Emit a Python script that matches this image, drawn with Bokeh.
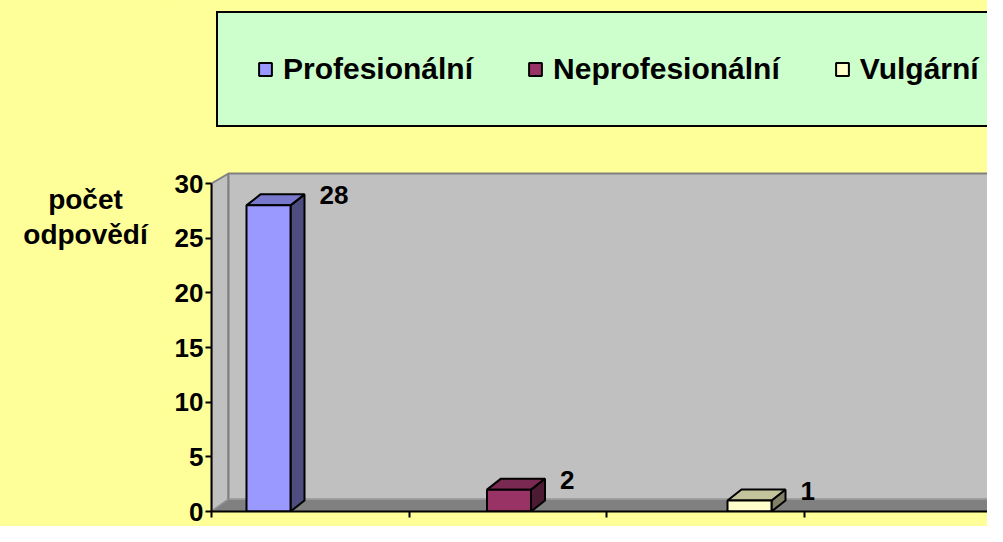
from bokeh.plotting import figure
from bokeh.layouts import row
from bokeh.models import (Range1d, FixedTicker, Legend, LegendItem, ColumnDataSource,
                          CustomJSTickFormatter)
from bokeh.core.properties import value
from bokeh.embed import file_html
from bokeh.resources import INLINE

# ---- data ----
series = ["Profesionální", "Neprofesionální", "Vulgární"]
counts = [28, 2, 1]
y_ticks = [0, 5, 10, 15, 20, 25, 30]
y_title = ["počet", "odpovědí"]
front_colors = ["#9999FF", "#993366", "#FFFFCC"]
top_colors = ["#7878CC", "#7A2952", "#C4C49C"]
side_colors = ["#4D4D80", "#4D1A33", "#808066"]

# ---- layout constants ----
FONT = "Liberation Sans"
BG = "#FFFF99"
W, H = 987, 526
LW = 160                 # width of the title strip on the left
AXIS_X = 211             # page x of the value axis
BOTTOM = 15
FRAME_H = H - BOTTOM
SLOT_PX = 240.5
Y30_PX = 183
ppu = (FRAME_H - Y30_PX) / 30.0
x_start = 1 - 57 / SLOT_PX
x_end = x_start + (W - AXIS_X) / SLOT_PX
y_end = FRAME_H / ppu

# ---- left strip with the axis title ----
t = figure(width=LW, height=H, x_range=Range1d(0, LW), y_range=Range1d(H, 0),
           output_backend="svg", toolbar_location=None, x_axis_type=None, y_axis_type=None,
           min_border=0, background_fill_color=BG, border_fill_color=BG, outline_line_color=None)
t.grid.visible = False
tsrc = ColumnDataSource(dict(x=[85, 85], y=[205, 241], t=y_title))
t.text(x="x", y="y", text="t", source=tsrc, text_font=value(FONT), text_font_style="bold",
       text_font_size="28px", text_align="center", text_baseline="middle", text_color="black")

# ---- main chart ----
p = figure(width=W - LW, height=H, x_range=Range1d(x_start, x_end), y_range=Range1d(0, y_end),
           output_backend="svg", toolbar_location=None,
           min_border_left=AXIS_X - LW, min_border_right=0, min_border_top=0, min_border_bottom=BOTTOM,
           background_fill_color=BG, border_fill_color=BG, outline_line_color=None)
p.grid.visible = False

# 3D walls
wdx = 17 / SLOT_PX
wtop = 30 + 10 / ppu
wfloor = 12 / ppu
p.patch([x_start, x_start, x_start + wdx, x_start + wdx], [0, 30, wtop, wfloor],
        fill_color="#C0C0C0", line_color="#808080", line_width=2)
p.patch([x_start + wdx, x_end + 1, x_end + 1, x_start + wdx], [wtop, wtop, wfloor, wfloor],
        fill_color="#C0C0C0", line_color="#808080", line_width=2)
p.patch([x_start, x_start + wdx, x_end + 1, x_end + 1], [0, wfloor, wfloor, 0],
        fill_color="#808080", line_color="#999999", line_width=1)

# 3D bars
cats = [i + 1 for i in range(len(series))]
hw = 22 / SLOT_PX
bdx = 14 / SLOT_PX
bdy = 11 / ppu
items = []
for i, name in enumerate(series):
    x = cats[i]
    v = counts[i]
    p.patch([x + hw, x + hw + bdx, x + hw + bdx, x + hw], [0, bdy, v + bdy, v],
            fill_color=side_colors[i], line_color="black", line_width=2)
    p.patch([x - hw, x + hw, x + hw + bdx, x - hw + bdx], [v, v, v + bdy, v + bdy],
            fill_color=top_colors[i], line_color="black", line_width=2)
    src = ColumnDataSource(dict(left=[x - hw], right=[x + hw], bottom=[0], top=[v]))
    r = p.quad(left="left", right="right", bottom="bottom", top="top", source=src,
               fill_color=front_colors[i], line_color="black", line_width=2)
    items.append(LegendItem(label=name, renderers=[r]))

# value labels
lab_src = ColumnDataSource(dict(x=[c + hw + bdx for c in cats], y=counts, t=[str(c) for c in counts]))
p.text(x="x", y="y", text="t", source=lab_src, x_offset=15, y_offset=-10,
       text_font=value(FONT), text_font_style="bold", text_font_size="26px",
       text_align="left", text_baseline="middle", text_color="black")

# axes
xa = p.xaxis[0]
xa.ticker = FixedTicker(ticks=[x_start + k * 197.5 / SLOT_PX for k in range(5)])
xa.formatter = CustomJSTickFormatter(code="return ''")
xa.major_label_text_font_size = "2px"
xa.major_label_standoff = 0
xa.major_tick_out = 6
xa.major_tick_in = 0
xa.minor_tick_out = 0
xa.minor_tick_in = 0
xa.axis_line_width = 2
xa.major_tick_line_width = 2
xa.axis_line_color = "black"
xa.major_tick_line_color = "black"

ya = p.yaxis[0]
ya.ticker = FixedTicker(ticks=y_ticks)
ya.bounds = (0, 30)
ya.major_label_text_font = FONT
ya.major_label_text_font_style = "bold"
ya.major_label_text_font_size = "26px"
ya.major_label_text_color = "black"
ya.major_label_standoff = 2
ya.major_tick_out = 6
ya.major_tick_in = 0
ya.minor_tick_out = 0
ya.minor_tick_in = 0
ya.axis_line_width = 2
ya.major_tick_line_width = 2
ya.axis_line_color = "black"
ya.major_tick_line_color = "black"

# legend
legend = Legend(items=items, location=(216 - AXIS_X, FRAME_H - 127), orientation="horizontal",
                background_fill_color="#CCFFCC", background_fill_alpha=1.0,
                border_line_color="black", border_line_width=2, border_line_alpha=1.0,
                padding=39, spacing=54, label_standoff=10, margin=0,
                glyph_width=16, glyph_height=16,
                label_text_font=FONT, label_text_font_style="bold",
                label_text_font_size="30px", label_text_color="black")
p.add_layout(legend)

layout = row(t, p, spacing=0, styles={"background-color": BG})
open("out.html", "w").write(file_html(layout, INLINE))
